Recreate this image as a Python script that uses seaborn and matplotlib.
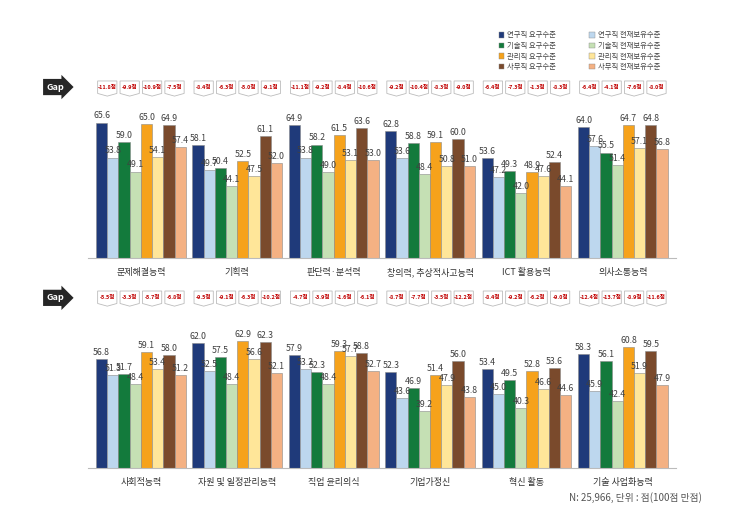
import numpy as np
import pandas as pd
import matplotlib
matplotlib.use("Agg")
import matplotlib.pyplot as plt
from matplotlib.patches import Patch, Polygon
import seaborn as sns

sns.set_style("white")
plt.rcParams['font.family'] = ['Noto Sans CJK KR', 'DejaVu Sans']

## series (hue) names and colours
series = ["연구직 요구수준", "연구직 현재보유수준", "기술직 요구수준", "기술직 현재보유수준",
          "관리직 요구수준", "관리직 현재보유수준", "사무직 요구수준", "사무직 현재보유수준"]
colors = ["#1f3a7a", "#bdd7ee", "#137a3c", "#c5e0b4",
          "#f6a21b", "#ffe699", "#7a4a2c", "#f4b183"]

## top panel
skills_top = ["문제해결능력", "기획력", "판단력·분석력", "창의력, 추상적사고능력", "ICT 활용능력", "의사소통능력"]
res_req_top = [65.6, 58.1, 64.9, 62.8, 53.6, 64.0]
res_cur_top = [53.8, 49.7, 53.8, 53.6, 47.2, 57.6]
tec_req_top = [59.0, 50.4, 58.2, 58.8, 49.3, 55.5]
tec_cur_top = [49.1, 44.1, 49.0, 48.4, 42.0, 51.4]
mgr_req_top = [65.0, 52.5, 61.5, 59.1, 48.9, 64.7]
mgr_cur_top = [54.1, 47.5, 53.1, 50.8, 47.6, 57.1]
off_req_top = [64.9, 61.1, 63.6, 60.0, 52.4, 64.8]
off_cur_top = [57.4, 52.0, 53.0, 51.0, 44.1, 56.8]

## bottom panel
skills_bot = ["사회적능력", "자원 및 일정관리능력", "직업 윤리의식", "기업가정신", "혁신 활동", "기술 사업화능력"]
res_req_bot = [56.8, 62.0, 57.9, 52.3, 53.4, 58.3]
res_cur_bot = [51.3, 52.5, 53.2, 43.6, 45.0, 45.9]
tec_req_bot = [51.7, 57.5, 52.3, 46.9, 49.5, 56.1]
tec_cur_bot = [48.4, 48.4, 48.4, 39.2, 40.3, 42.4]
mgr_req_bot = [59.1, 62.9, 59.3, 51.4, 52.8, 60.8]
mgr_cur_bot = [53.4, 56.6, 57.7, 47.9, 46.6, 51.9]
off_req_bot = [58.0, 62.3, 58.8, 56.0, 53.6, 59.5]
off_cur_bot = [51.2, 52.1, 52.7, 43.8, 44.6, 47.9]

panel_top = [res_req_top, res_cur_top, tec_req_top, tec_cur_top,
             mgr_req_top, mgr_cur_top, off_req_top, off_cur_top]
panel_bot = [res_req_bot, res_cur_bot, tec_req_bot, tec_cur_bot,
             mgr_req_bot, mgr_cur_bot, off_req_bot, off_cur_bot]


def to_long(skills, cols):
    rows = []
    for name, vals in zip(series, cols):
        for s, v in zip(skills, vals):
            rows.append((s, name, v))
    return pd.DataFrame(rows, columns=["skill", "series", "value"])


def draw_panel(ax, skills, cols):
    df = to_long(skills, cols)
    sns.barplot(data=df, x="skill", y="value", hue="series", order=skills,
                hue_order=series, palette=colors, saturation=1, width=0.93, ax=ax,
                legend=False, edgecolor="#8a8a8a", linewidth=0.4, errorbar=None)
    ax.set_ylim(20, 80)
    ax.set_xlim(-0.55, len(skills) - 0.45)
    for cont in ax.containers:
        ax.bar_label(cont, fmt="%.1f", fontsize=6.3, padding=1.5, color="#404040")

    # gap badges above each pair of bars (current - required)
    yc = 77.3
    for j in range(len(skills)):
        for k in range(4):
            p1 = ax.containers[2 * k].patches[j]
            p2 = ax.containers[2 * k + 1].patches[j]
            left = p1.get_x()
            right = p2.get_x() + p2.get_width()
            cx = (left + right) / 2
            hw = (right - left) * 0.43
            # small banner shape with a pointed bottom
            shape = Polygon([(cx - hw, yc + 2.3), (cx + hw, yc + 2.3), (cx + hw, yc - 1.9),
                             (cx, yc - 2.8), (cx - hw, yc - 1.9)],
                            closed=True, fc="white", ec="#bcbcbc", lw=0.6, clip_on=False)
            ax.add_patch(shape)
            gap = cols[2 * k + 1][j] - cols[2 * k][j]
            ax.text(cx, yc, f"{gap:.1f}점", ha="center", va="center",
                    fontsize=4.0, color="#c00000", fontweight="bold")

    ax.set_xlabel("")
    ax.set_ylabel("")
    ax.set_yticks([])
    sns.despine(ax=ax, left=True)
    ax.spines["bottom"].set_color("#bbbbbb")
    ax.tick_params(axis="x", which="major", length=0, pad=7, labelsize=6.5, labelcolor="#333333")
    ax.set_xticks(np.arange(-0.5, len(skills), 1.0), minor=True)
    ax.tick_params(axis="x", which="minor", length=3, color="#bbbbbb")


fig = plt.figure(figsize=(7.51, 5.18), dpi=100)
ax1 = fig.add_axes([0.117, 0.502, 0.783, 0.344])
ax2 = fig.add_axes([0.117, 0.0965, 0.783, 0.344])

draw_panel(ax1, skills_top, panel_top)
draw_panel(ax2, skills_bot, panel_bot)

# black "Gap" arrow badges
for yy in [0.832, 0.425]:
    fig.text(0.074, yy, "Gap", ha="center", va="center", color="white",
             fontsize=6.5, fontweight="bold",
             bbox=dict(boxstyle="rarrow,pad=0.4", fc="#262626", ec="none"))

# legend: required levels in left column, current levels in right column
handles = [Patch(facecolor=c, edgecolor="#8a8a8a", linewidth=0.3) for c in colors]
order = [0, 2, 4, 6, 1, 3, 5, 7]
fig.legend([handles[i] for i in order], [series[i] for i in order], ncol=2,
           loc="upper left", bbox_to_anchor=(0.655, 0.952), frameon=False,
           fontsize=5.3, handlelength=0.8, handleheight=0.8, handletextpad=0.4,
           columnspacing=4.5, labelspacing=0.35, labelcolor="#444444")

fig.text(0.935, 0.04, "N: 25,966, 단위 : 점(100점 만점)", ha="right", va="center",
         fontsize=7, color="#555555")

fig.savefig("out.png", dpi=100)
